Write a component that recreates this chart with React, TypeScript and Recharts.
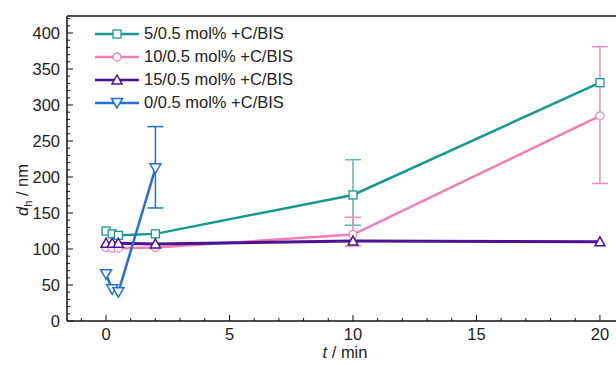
import React from 'react';
import {
  ComposedChart,
  Line,
  XAxis,
  YAxis,
  ErrorBar,
  ReferenceLine,
} from 'recharts';

// time points (min)
const times = [0, 0.25, 0.5, 2, 10, 20];
const blueTimes = [0, 0.25, 0.5, 2];

// d_h values (nm)
const teal = [125, 121, 119, 121, 175, 331];
const pink = [102, 101, 101, 102, 120, 285];
const purple = [108, 108, 108, 107, 111, 110];
const blue = [65, 44, 40, 212];

// error ranges [low, high], null = none
const tealErr: (number[] | null)[] = [null, null, null, null, [133, 224], null];
const pinkErr: (number[] | null)[] = [null, null, null, null, [104, 144], [191, 381]];
const blueErr: (number[] | null)[] = [null, null, null, [157, 270]];

const seriesNames = [
  '5/0.5 mol% +C/BIS',
  '10/0.5 mol% +C/BIS',
  '15/0.5 mol% +C/BIS',
  '0/0.5 mol% +C/BIS',
];
const colors = ['#16998a', '#f27db6', '#4a1396', '#2070d8'];
const errColors = ['#5fb8ae', '#f08cbf', '#2070d8'];

const yTicks = Array.from({ length: 43 }, (_, i) => i * 10);
const xTicks = Array.from({ length: 22 }, (_, i) => i - 1);

const build = (xs: number[], ys: number[], errs: (number[] | null)[]) =>
  xs.map((t, i) => {
    const e = errs[i];
    return { t, v: ys[i], err: e ? [ys[i] - e[0], e[1] - ys[i]] : null };
  });

const tealData = build(times, teal, tealErr);
const pinkData = build(times, pink, pinkErr);
const purpleData = build(times, purple, [null, null, null, null, null, null]);
const blueData = build(blueTimes, blue, blueErr);

const FONT = '"Liberation Sans", Arial, sans-serif';

const marker = (kind: number, color: string, cx: number, cy: number, key?: string) => {
  const s = 4;
  if (kind === 0)
    return <rect key={key} x={cx - s} y={cy - s} width={2 * s} height={2 * s} fill="#fff" stroke={color} strokeWidth={1.3} />;
  if (kind === 1)
    return <circle key={key} cx={cx} cy={cy} r={s} fill="#fff" stroke={color} strokeWidth={1.3} />;
  if (kind === 2)
    return <polygon key={key} points={`${cx},${cy - 5} ${cx - 5},${cy + 4} ${cx + 5},${cy + 4}`} fill="#fff" stroke={color} strokeWidth={1.5} />;
  return <polygon key={key} points={`${cx},${cy + 5} ${cx - 5.5},${cy - 4.5} ${cx + 5.5},${cy - 4.5}`} fill="#fff" stroke={color} strokeWidth={1.5} />;
};

const dotFor = (kind: number) => (p: any) =>
  marker(kind, colors[kind], p.cx, p.cy, `d-${kind}-${p.index}`);

const YTick = (p: any) => {
  const v = p.payload.value;
  const major = v % 50 === 0;
  return (
    <g>
      <line x1={p.x} x2={p.x + (major ? 6 : 3)} y1={p.y} y2={p.y} stroke="#111" strokeWidth={1} />
      {major && (
        <text x={p.x - 7} y={p.y + 6} textAnchor="end" fontSize={16.5} fontFamily={FONT} fill="#222">
          {v}
        </text>
      )}
    </g>
  );
};

const XTick = (p: any) => {
  const v = p.payload.value;
  const major = v % 5 === 0;
  return (
    <g>
      <line x1={p.x} x2={p.x} y1={p.y} y2={p.y - (major ? 6 : 3)} stroke="#111" strokeWidth={1} />
      {major && (
        <text x={p.x} y={p.y + 19} textAnchor="middle" fontSize={16.5} fontFamily={FONT} fill="#222">
          {v}
        </text>
      )}
    </g>
  );
};

const LegendBox = () => (
  <div
    style={{
      position: 'absolute',
      top: 22,
      left: 94,
      fontFamily: FONT,
      fontSize: 16.5,
      color: '#222',
      lineHeight: 1,
    }}
  >
    {seriesNames.map((n, i) => (
      <div key={n} style={{ display: 'flex', alignItems: 'center', height: 23 }}>
        <svg width={46} height={14} style={{ marginRight: 4 }}>
          <line x1={1} x2={45} y1={7} y2={7} stroke={colors[i]} strokeWidth={2.5} />
          {marker(i, colors[i], 23, 7)}
        </svg>
        <span>{n}</span>
      </div>
    ))}
  </div>
);

export default function App() {
  return (
    <div style={{ position: 'absolute', left: 0, top: 0, width: 616, height: 365, background: '#fff' }}>
      <ComposedChart width={616} height={365} margin={{ top: 16, right: 0, bottom: 0, left: 0 }}>
        <XAxis
          type="number"
          dataKey="t"
          domain={[-1.58, 20.65]}
          ticks={xTicks}
          interval={0}
          tick={<XTick />}
          tickSize={0}
          tickMargin={0}
          tickLine={false}
          height={44}
          axisLine={{ stroke: '#111', strokeWidth: 1.5 }}
          allowDataOverflow
          label={{
            content: () => (
              <text x={345} y={358} textAnchor="middle" fontSize={16.5} fontFamily={FONT} fill="#222">
                <tspan fontStyle="italic">t</tspan> / min
              </text>
            ),
          }}
        />
        <YAxis
          type="number"
          domain={[0, 423.6]}
          ticks={yTicks}
          interval={0}
          tick={<YTick />}
          tickSize={0}
          tickMargin={0}
          tickLine={false}
          width={67}
          axisLine={{ stroke: '#111', strokeWidth: 1.5 }}
          allowDataOverflow
          label={{
            content: () => (
              <text transform="translate(28,190) rotate(-90)" textAnchor="middle" fontSize={16.5} fontFamily={FONT} fill="#222">
                <tspan fontStyle="italic">d</tspan>
                <tspan fontSize={11} dy={4}>h</tspan>
                <tspan dy={-4}> / nm</tspan>
              </text>
            ),
          }}
        />
        <ReferenceLine y={423.6} stroke="#111" strokeWidth={1.5} ifOverflow="visible" />
        <Line data={tealData} dataKey="v" name={seriesNames[0]} stroke={colors[0]} strokeWidth={2.5} dot={dotFor(0)} isAnimationActive={false}>
          <ErrorBar dataKey="err" direction="y" width={8} stroke={errColors[0]} strokeWidth={1.5} />
        </Line>
        <Line data={pinkData} dataKey="v" name={seriesNames[1]} stroke={colors[1]} strokeWidth={2.5} dot={dotFor(1)} isAnimationActive={false}>
          <ErrorBar dataKey="err" direction="y" width={8} stroke={errColors[1]} strokeWidth={1.5} />
        </Line>
        <Line data={purpleData} dataKey="v" name={seriesNames[2]} stroke={colors[2]} strokeWidth={3} dot={dotFor(2)} isAnimationActive={false} />
        <Line data={blueData} dataKey="v" name={seriesNames[3]} stroke={colors[3]} strokeWidth={2.5} dot={dotFor(3)} isAnimationActive={false}>
          <ErrorBar dataKey="err" direction="y" width={8} stroke={errColors[2]} strokeWidth={1.5} />
        </Line>
      </ComposedChart>
      <LegendBox />
    </div>
  );
}
